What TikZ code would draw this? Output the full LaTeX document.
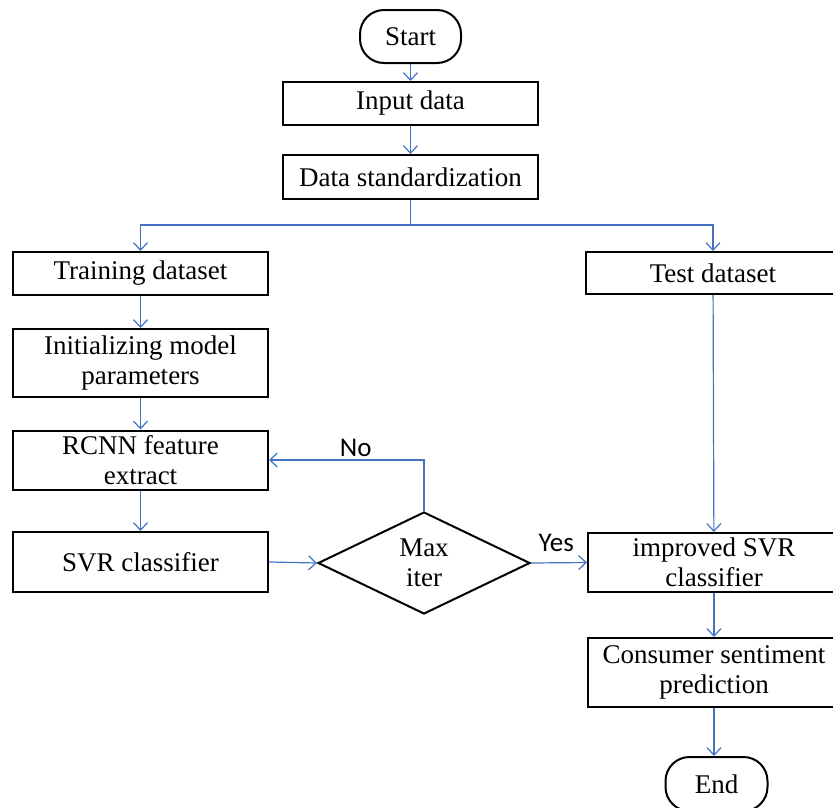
\documentclass[tikz,border=0pt]{standalone}
\usepackage{fontspec}
\setmainfont{Liberation Serif}
\newfontfamily\labelfont{Carlito}
\usetikzlibrary{arrows.meta,shapes.geometric}
\definecolor{flowblue}{RGB}{68,114,196}

\begin{document}
\begin{tikzpicture}[x=1pt,y=-1pt,
  box/.style={draw=black, line width=2pt, rectangle, inner sep=0pt, align=center,
              font=\fontsize{27}{30}\selectfont},
  term/.style={box, rounded corners=24pt},
  decision/.style={draw=black, line width=2pt, diamond, inner sep=0pt, align=center,
              font=\fontsize{27}{30}\selectfont, minimum width=212pt, minimum height=102pt},
  flow/.style={draw=flowblue, line width=1.2pt, -{Straight Barb[length=7.5pt,width=14pt]}},
  link/.style={draw=flowblue, line width=1.2pt},
  tag/.style={font=\labelfont\fontsize{27}{30}\selectfont}
]
\useasboundingbox (0,0) rectangle (833,807);

% main column
\node[term, minimum width=101pt, minimum height=53pt] (start) at (410.5,36.5) {Start};
\node[box, minimum width=255pt, minimum height=43pt] (input) at (410.5,103.5) {Input data};
\node[box, minimum width=255pt, minimum height=44pt] (std) at (410.5,177) {Data standardization};

% training branch
\node[box, minimum width=255pt, minimum height=43pt] (train) at (140.5,273.5) {Training dataset};
\node[box, minimum width=255pt, minimum height=68pt] (init) at (140.5,363) {Initializing model\\parameters};
\node[box, minimum width=255pt, minimum height=59pt] (rcnn) at (140.5,460) {RCNN feature\\extract};
\node[box, minimum width=255pt, minimum height=60pt] (svr) at (140.5,562) {SVR classifier};
\node[decision] (maxit) at (424,563) {Max\\iter};

% test branch
\node[box, minimum width=254pt, minimum height=42pt] (test) at (713,273) {Test dataset};
\node[box, minimum width=252pt, minimum height=59pt] (isvr) at (714,562.5) {improved SVR\\classifier};
\node[box, minimum width=252pt, minimum height=69pt] (cons) at (714,672.5) {Consumer sentiment\\prediction};
\node[term, minimum width=102pt, minimum height=54pt] (end) at (716.5,784) {End};

% connectors
\draw[flow] (start) -- (input);
\draw[flow] (input) -- (std);
\coordinate (split) at (410.5,225);
\draw[link] (std.south) -- (split);
\draw[flow] (split) -| (train.north);
\draw[flow] (split) -| (test.north);
\draw[flow] (train) -- (init);
\draw[flow] (init) -- (rcnn);
\draw[flow] (rcnn) -- (svr);
\draw[flow] (svr.east) -- (maxit.west);
\draw[flow] (maxit.north) |- (rcnn.east) node[tag, pos=0.72, above=-1pt] {No};
\draw[flow] (maxit.east) -- (isvr.west) node[tag, pos=0.45, above=7pt] {Yes};
\draw[flow] (test) -- (isvr);
\draw[flow] (isvr) -- (cons);
\draw[flow] (cons.south) -- (cons.south |- end.north);
\end{tikzpicture}
\end{document}
